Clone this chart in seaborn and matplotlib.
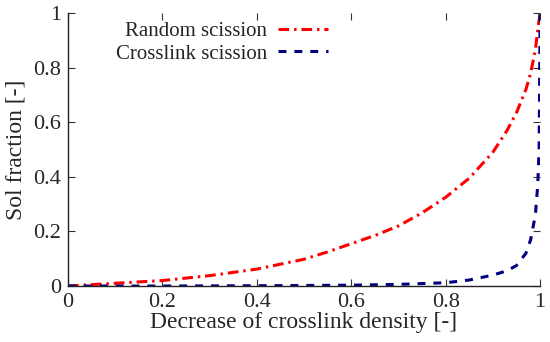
import matplotlib
matplotlib.use("Agg")
import matplotlib.pyplot as plt
import pandas as pd
import seaborn as sns

# values
random_x = [0, 0.1, 0.2, 0.3, 0.4, 0.5, 0.55, 0.6, 0.65, 0.7, 0.75, 0.8, 0.85, 0.9, 0.93, 0.95, 0.97, 0.98, 0.99, 0.996, 1.0]
random_y = [0, 0.01, 0.02, 0.038, 0.062, 0.098, 0.125, 0.155, 0.185, 0.22, 0.268, 0.325, 0.395, 0.49, 0.57, 0.635, 0.72, 0.78, 0.865, 0.95, 1.0]
cross_x = [0, 0.2, 0.4, 0.6, 0.7, 0.8, 0.85, 0.9, 0.93, 0.95, 0.97, 0.98, 0.99, 0.995, 0.998, 1.0]
cross_y = [0, 0, 0.001, 0.003, 0.006, 0.012, 0.022, 0.04, 0.056, 0.075, 0.12, 0.17, 0.26, 0.37, 0.51, 1.0]

labels = ["Random scission", "Crosslink scission"]
ticks = [0, 0.2, 0.4, 0.6, 0.8, 1]
tick_labels = ["0", "0.2", "0.4", "0.6", "0.8", "1"]

df = pd.concat([
    pd.DataFrame({"x": random_x, "y": random_y, "curve": labels[0]}),
    pd.DataFrame({"x": cross_x, "y": cross_y, "curve": labels[1]}),
])

sns.set_theme(style="ticks")
plt.rcParams["font.family"] = ["Liberation Serif", "DejaVu Serif"]
plt.rcParams["xtick.direction"] = "in"
plt.rcParams["ytick.direction"] = "in"

fig = plt.figure(figsize=(5.5, 3.42), dpi=100)
ax = fig.add_axes([0.1236, 0.1637, 0.8584, 0.7983])

sns.lineplot(data=df, x="x", y="y", hue="curve", style="curve",
             hue_order=labels, style_order=labels,
             palette={labels[0]: "#ff0000", labels[1]: "#000080"},
             dashes={labels[0]: (3.5, 1.6, 0.8, 1.6), labels[1]: (2.6, 2.6)},
             estimator=None, linewidth=2.2, ax=ax)

ax.set_xlim(0, 1)
ax.set_ylim(0, 1)
ax.set_xticks(ticks)
ax.set_xticklabels(tick_labels)
ax.set_yticks(ticks)
ax.set_yticklabels(tick_labels)
ax.tick_params(axis="both", which="both", labelsize=16, length=5, width=0.8,
               top=True, right=True, pad=5, color="#333333")
for side in ["top", "right"]:
    ax.spines[side].set_visible(False)
for side in ["left", "bottom"]:
    ax.spines[side].set_linewidth(1.0)
    ax.spines[side].set_color("#222222")

ax.set_xlabel("Decrease of crosslink density [-]", fontsize=17, labelpad=0)
ax.set_ylabel("Sol fraction [-]", fontsize=17, labelpad=5)

handles, _ = ax.get_legend_handles_labels()
ax.legend(handles=handles, labels=labels, markerfirst=False, frameon=False,
          loc="upper right", bbox_to_anchor=(0.568, 1.0), borderaxespad=0,
          fontsize=15, handlelength=2.4, handletextpad=0.5, labelspacing=0.15)

fig.savefig("out.png", dpi=100)
